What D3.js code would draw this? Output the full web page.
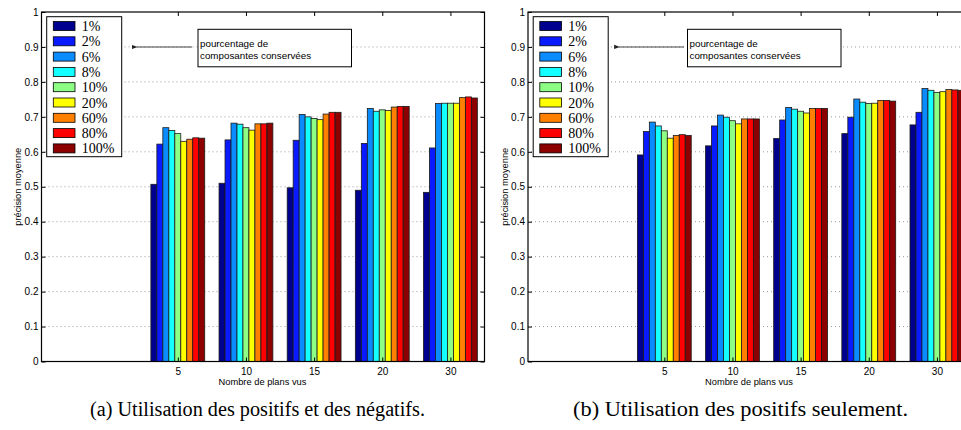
<!DOCTYPE html>
<html>
<head>
<meta charset="utf-8">
<script src="https://cdn.jsdelivr.net/npm/d3@7"></script>
<style>
  html, body { margin: 0; padding: 0; background: #fff; }
  svg { display: block; }
</style>
</head>
<body>
<svg id="fig" width="961" height="430"></svg>
<script>
// Number of shots seen (x categories)
const categories = ["5", "10", "15", "20", "30"];
// Percentage of kept components (one bar per entry in each group)
const seriesLabels = ["1%", "2%", "6%", "8%", "10%", "20%", "60%", "80%", "100%"];
const seriesColors = ["#00008f", "#0a1aff", "#0a8cff", "#14ffff", "#8cff84",
                      "#ffff00", "#ff8000", "#ff0000", "#8c0000"];
const yTicks = [0, 0.1, 0.2, 0.3, 0.4, 0.5, 0.6, 0.7, 0.8, 0.9, 1];

// (a) positives and negatives: rows follow categories, columns follow seriesLabels
const precisionPosNeg = [
  [0.507, 0.622, 0.669, 0.661, 0.652, 0.630, 0.636, 0.640, 0.639],
  [0.510, 0.634, 0.682, 0.679, 0.669, 0.662, 0.680, 0.680, 0.682],
  [0.497, 0.633, 0.707, 0.700, 0.695, 0.692, 0.708, 0.713, 0.713],
  [0.490, 0.624, 0.724, 0.716, 0.720, 0.718, 0.728, 0.730, 0.730],
  [0.484, 0.611, 0.738, 0.739, 0.739, 0.739, 0.755, 0.757, 0.754]
];
// (b) positives only
const precisionPos = [
  [0.591, 0.658, 0.685, 0.674, 0.660, 0.639, 0.647, 0.649, 0.647],
  [0.617, 0.674, 0.705, 0.699, 0.689, 0.680, 0.694, 0.694, 0.694],
  [0.638, 0.691, 0.727, 0.722, 0.716, 0.711, 0.724, 0.724, 0.724],
  [0.652, 0.699, 0.751, 0.742, 0.738, 0.739, 0.747, 0.747, 0.745],
  [0.677, 0.713, 0.781, 0.776, 0.770, 0.772, 0.778, 0.777, 0.776]
];

const captions = ["(a) Utilisation des positifs et des négatifs.",
                  "(b) Utilisation des positifs seulement."];

const svg = d3.select("#fig");
const sans = "'Liberation Sans', Arial, Helvetica, sans-serif";
const serif = "'Liberation Serif', 'Times New Roman', serif";

const panels = [
  { x0: 41.5, data: precisionPosNeg, caption: captions[0], capX: 90, annX: 156.5, arrowFrom: 150.5, arrowTo: 94.5 },
  { x0: 528,  data: precisionPos,    caption: captions[1], capX: 573, annX: 159.5, arrowFrom: 156, arrowTo: 90.5 }
];

const plotTop = 12, plotBottom = 361.5, plotW = 443;

// arrowhead marker
svg.append("defs").append("marker")
  .attr("id", "arrowHead")
  .attr("viewBox", "0 0 10 10")
  .attr("refX", 1).attr("refY", 5)
  .attr("markerWidth", 6).attr("markerHeight", 6)
  .attr("markerUnits", "userSpaceOnUse")
  .attr("orient", "auto-start-reverse")
  .append("path")
  .attr("d", "M0,5 L10,1.5 L10,8.5 Z")
  .attr("fill", "#222");

panels.forEach(p => {
  const g = svg.append("g");
  const x = d3.scaleLinear().domain([-1, 5.5]).range([p.x0, p.x0 + plotW]);
  const y = d3.scaleLinear().domain([0, 1]).range([plotBottom, plotTop]);
  const unit = x(1) - x(0);
  const barW = unit * 0.79 / seriesLabels.length;
  const catPos = categories.map((c, i) => i + 1);

  // dotted horizontal grid
  g.append("g").selectAll("line")
    .data(yTicks.filter(v => v > 0 && v < 1))
    .join("line")
    .attr("x1", p.x0 + 3).attr("x2", p.x0 + plotW)
    .attr("y1", d => y(d)).attr("y2", d => y(d))
    .attr("stroke", "#9a9a9a").attr("stroke-width", 1)
    .attr("stroke-dasharray", "1,3");

  // grouped bars
  const groups = g.append("g").selectAll("g")
    .data(p.data)
    .join("g");
  groups.selectAll("rect")
    .data((row, i) => row.map((v, j) => ({ v, j, i })))
    .join("rect")
    .attr("x", d => x(catPos[d.i]) + (d.j - seriesLabels.length / 2) * barW)
    .attr("width", barW)
    .attr("y", d => y(d.v))
    .attr("height", d => y(0) - y(d.v))
    .attr("fill", d => seriesColors[d.j])
    .attr("stroke", "#1a1a1a").attr("stroke-width", 0.8);

  // axes with inward ticks
  const axL = g.append("g").attr("transform", `translate(${p.x0},0)`)
    .call(d3.axisLeft(y).tickValues(yTicks).tickSize(-4).tickSizeOuter(0).tickPadding(3)
      .tickFormat(d => d3.format("")(+d.toFixed(1))));
  const axR = g.append("g").attr("transform", `translate(${p.x0 + plotW},0)`)
    .call(d3.axisRight(y).tickValues(yTicks).tickSize(-4).tickSizeOuter(0).tickFormat(""));
  const axB = g.append("g").attr("transform", `translate(0,${plotBottom})`)
    .call(d3.axisBottom(x).tickValues(catPos).tickSize(-4).tickSizeOuter(0).tickPadding(6)
      .tickFormat((d, i) => categories[i]));
  const axT = g.append("g").attr("transform", `translate(0,${plotTop})`)
    .call(d3.axisTop(x).tickValues(catPos).tickSize(-4).tickSizeOuter(0).tickFormat(""));
  [axL, axR, axB, axT].forEach(a => {
    a.select(".domain").remove();
    a.selectAll(".tick line").attr("stroke", "#000").attr("stroke-width", 1);
    a.selectAll("text").attr("font-family", sans).attr("font-size", 10).attr("fill", "#000");
  });

  // frame
  g.append("rect")
    .attr("x", p.x0).attr("y", plotTop)
    .attr("width", plotW).attr("height", plotBottom - plotTop)
    .attr("fill", "none").attr("stroke", "#000").attr("stroke-width", 1.2);

  // axis titles
  g.append("text")
    .attr("transform", `translate(${p.x0 - 20.5},${(plotTop + plotBottom) / 2}) rotate(-90)`)
    .attr("text-anchor", "middle")
    .attr("font-family", sans).attr("font-size", 9.3)
    .text("précision moyenne");
  g.append("text")
    .attr("x", (p.x0 + p.x0 + plotW) / 2 - 0.5).attr("y", 384.5)
    .attr("text-anchor", "middle")
    .attr("font-family", sans).attr("font-size", 9.3)
    .text("Nombre de plans vus");

  // legend
  const lg = g.append("g").attr("transform", `translate(${p.x0 + 5.2},${16.7})`);
  lg.append("rect").attr("width", 75).attr("height", 140)
    .attr("fill", "#fff").attr("stroke", "#000").attr("stroke-width", 1);
  const items = lg.selectAll("g").data(seriesLabels).join("g")
    .attr("transform", (d, i) => `translate(0,${9.3 + i * 15.3})`);
  items.append("rect")
    .attr("x", 6.6).attr("y", -4.5).attr("width", 21.7).attr("height", 9)
    .attr("fill", (d, i) => seriesColors[i])
    .attr("stroke", "#000").attr("stroke-width", 0.8);
  items.append("text")
    .attr("x", 35).attr("y", 5)
    .attr("font-family", serif).attr("font-size", 14)
    .text(d => d);

  // annotation with arrow pointing at the legend
  const ay = y(0.9);
  g.append("line")
    .attr("x1", p.x0 + p.arrowFrom).attr("x2", p.x0 + p.arrowTo + 1)
    .attr("y1", ay).attr("y2", ay)
    .attr("stroke", "#444").attr("stroke-width", 1.1)
    .attr("marker-end", "url(#arrowHead)");
  const ag = g.append("g").attr("transform", `translate(${p.x0 + p.annX},29.3)`);
  ag.append("rect").attr("width", 153.5).attr("height", 37.5)
    .attr("fill", "#fff").attr("stroke", "#000").attr("stroke-width", 1);
  ag.append("text").attr("x", 2).attr("y", 18)
    .attr("font-family", sans).attr("font-size", 9.8).text("pourcentage de");
  ag.append("text").attr("x", 2).attr("y", 30)
    .attr("font-family", sans).attr("font-size", 9.8).text("composantes conservées");

  // sub-figure caption
  svg.append("text")
    .attr("x", p.capX).attr("y", 416)
    .attr("font-family", serif).attr("font-size", 20)
    .attr("textLength", 335).attr("lengthAdjust", "spacingAndGlyphs")
    .text(p.caption);
});
</script>
</body>
</html>
